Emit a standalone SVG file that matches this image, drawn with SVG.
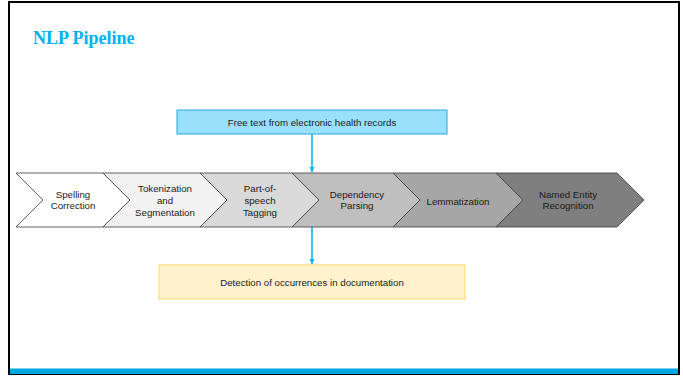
<svg xmlns="http://www.w3.org/2000/svg" width="683" height="377" viewBox="0 0 683 377">
<defs>
<style>
.chev{stroke:#3a3a3a;stroke-width:0.8}
.lbl{font-family:"Liberation Sans",Arial,sans-serif;font-size:9.7px;fill:#1a1a1a;text-anchor:middle}
.conn{stroke:#00b0f0;stroke-width:1.5;fill:none}
</style>
<marker id="ah" markerWidth="6" markerHeight="6" refX="5" refY="3" orient="auto" markerUnits="userSpaceOnUse">
<path d="M0,0.5 L5,3 L0,5.5 Z" fill="#00b0f0"/>
</marker>
</defs>
<rect x="0" y="0" width="683" height="377" fill="#ffffff"/>
<rect x="9" y="2" width="670" height="372" fill="#ffffff" stroke="#000000" stroke-width="2"/>
<rect x="10" y="368.5" width="668" height="5.5" fill="#00a8e6"/>
<text x="33" y="44" font-family="'Liberation Serif',serif" font-weight="bold" font-size="18" fill="#00b0f0">NLP Pipeline</text>

<g id="connectors">
<line class="conn" x1="312" y1="134" x2="312" y2="172" marker-end="url(#ah)"/>
<line class="conn" x1="312" y1="227" x2="312" y2="264" marker-end="url(#ah)"/>
</g>

<g id="source">
<rect x="177" y="110" width="270" height="24" fill="#99e1fb" stroke="#2ba6dc" stroke-width="1"/>
<text class="lbl" x="312" y="125.5">Free text from electronic health records</text>
</g>

<g id="step1">
<polygon class="chev" points="16,173 103,173 130,200 103,227 16,227 43,200" fill="#ffffff"/>
<text class="lbl" x="73" y="197.5">Spelling</text>
<text class="lbl" x="73" y="209">Correction</text>
</g>
<g id="step2">
<polygon class="chev" points="103,173 200,173 227,200 200,227 103,227 130,200" fill="#f2f2f2"/>
<text class="lbl" x="165" y="192">Tokenization</text>
<text class="lbl" x="165" y="203.5">and</text>
<text class="lbl" x="165" y="215.5">Segmentation</text>
</g>
<g id="step3">
<polygon class="chev" points="200,173 292,173 319,200 292,227 200,227 227,200" fill="#d9d9d9"/>
<text class="lbl" x="260" y="192">Part-of-</text>
<text class="lbl" x="260" y="203.5">speech</text>
<text class="lbl" x="260" y="215.5">Tagging</text>
</g>
<g id="step4">
<polygon class="chev" points="292,173 393,173 420,200 393,227 292,227 319,200" fill="#bfbfbf"/>
<text class="lbl" x="357" y="197.5">Dependency</text>
<text class="lbl" x="357" y="209">Parsing</text>
</g>
<g id="step5">
<polygon class="chev" points="393,173 496,173 523,200 496,227 393,227 420,200" fill="#a6a6a6"/>
<text class="lbl" x="458" y="204.5">Lemmatization</text>
</g>
<g id="step6">
<polygon class="chev" points="496,173 617,173 644,200 617,227 496,227 523,200" fill="#7f7f7f"/>
<text class="lbl" x="568" y="197.5">Named Entity</text>
<text class="lbl" x="568" y="209">Recognition</text>
</g>

<g id="output">
<rect x="159" y="265" width="306" height="34" fill="#fff2cc" stroke="#ffd966" stroke-width="1"/>
<text class="lbl" x="312" y="285.5">Detection of occurrences in documentation</text>
</g>
</svg>
